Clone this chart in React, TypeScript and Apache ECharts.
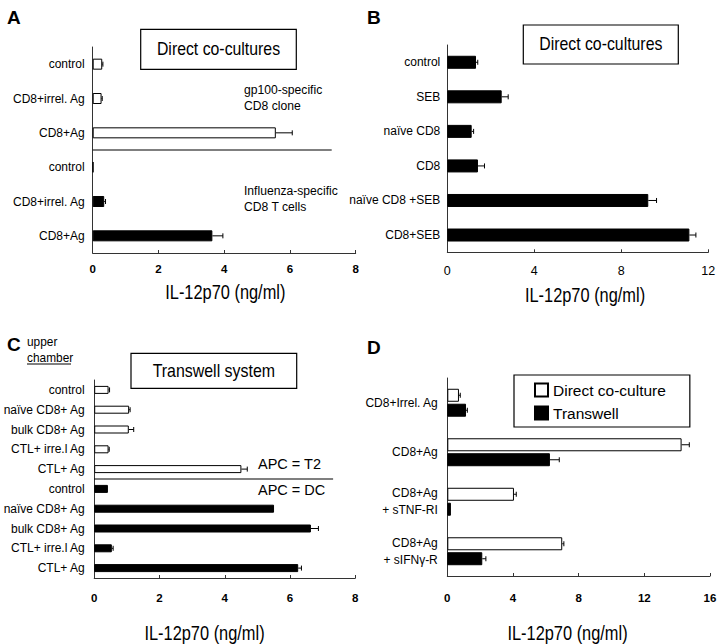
import React, { useEffect, useRef } from 'react';
import * as echarts from 'echarts';

// ---------- Panel A ----------
const aCategories = ['control', 'CD8+irrel. Ag', 'CD8+Ag', 'control', 'CD8+irrel. Ag', 'CD8+Ag'];
const aCells = ['gp100', 'gp100', 'gp100', 'influenza', 'influenza', 'influenza'];
const aValues = [0.29, 0.27, 5.57, 0.02, 0.35, 3.64];
const aErrors = [0.02, 0.02, 0.5, 0, 0.04, 0.32];
const aTicks = [0, 2, 4, 6, 8];

// ---------- Panel B ----------
const bCategories = ['control', 'SEB', 'naïve CD8', 'CD8', 'naïve CD8 +SEB', 'CD8+SEB'];
const bValues = [1.32, 2.5, 1.12, 1.41, 9.24, 11.13];
const bErrors = [0.08, 0.3, 0.09, 0.3, 0.38, 0.3];
const bTicks = [0, 4, 8, 12];

// ---------- Panel C ----------
const cCategories = [
  'control', 'naïve CD8+ Ag', 'bulk CD8+ Ag', 'CTL+ irre.l Ag', 'CTL+ Ag',
  'control', 'naïve CD8+ Ag', 'bulk CD8+ Ag', 'CTL+ irre.l Ag', 'CTL+ Ag',
];
const cAPC = ['T2', 'T2', 'T2', 'T2', 'T2', 'DC', 'DC', 'DC', 'DC', 'DC'];
const cValues = [0.44, 1.07, 1.06, 0.44, 4.51, 0.42, 5.51, 6.64, 0.54, 6.25];
const cErrors = [0.03, 0.03, 0.15, 0.02, 0.18, 0, 0, 0.23, 0.04, 0.1];
const cTicks = [0, 2, 4, 6, 8];

// ---------- Panel D ----------
const dCategories = ['CD8+Irrel. Ag', 'CD8+Ag', 'CD8+Ag\n+ sTNF-RI', 'CD8+Ag\n+ sIFNγ-R'];
const dDirect = [0.71, 14.27, 4.06, 7.0];
const dDirectErr = [0.08, 0.47, 0.14, 0.1];
const dTranswell = [1.14, 6.25, 0.22, 2.13];
const dTranswellErr = [0.08, 0.57, 0, 0.22];
const dTicks = [0, 4, 8, 12, 16];

const SANS = "'Liberation Sans', Arial, sans-serif";
const AXIS_COLOR = '#333';

const openStyle = { color: '#fff', borderColor: '#000', borderWidth: 1 };
const solidStyle = { color: '#000', borderColor: '#000', borderWidth: 1 };

function errorRender(offset: number) {
  return (params: any, api: any) => {
    const v = api.value(0);
    const cat = api.value(1);
    const e = api.value(2);
    if (!e) return null;
    const p0 = api.coord([v, cat]);
    const p1 = api.coord([v + e, cat]);
    const y = p0[1] + offset;
    const st = { stroke: '#000', lineWidth: 1 };
    return {
      type: 'group',
      children: [
        { type: 'line', shape: { x1: p0[0], y1: y, x2: p1[0], y2: y }, style: st },
        { type: 'line', shape: { x1: p1[0], y1: y - 2.5, x2: p1[0], y2: y + 2.5 }, style: st },
      ],
    };
  };
}

function dividerRender(reach: number) {
  return (params: any, api: any) => {
    const i = api.value(0);
    const a = api.coord([0, i]);
    const b = api.coord([reach, i + 1]);
    const y = (a[1] + b[1]) / 2;
    return {
      type: 'line',
      shape: { x1: a[0], y1: y, x2: b[0], y2: y },
      style: { stroke: '#000', lineWidth: 1.2 },
    };
  };
}

function xAxisFor(idx: number, ticks: number[], margin: number, bold: boolean) {
  return {
    type: 'value',
    gridIndex: idx,
    min: ticks[0],
    max: ticks[ticks.length - 1],
    interval: ticks[1] - ticks[0],
    axisLine: { show: true, lineStyle: { color: AXIS_COLOR, width: 1 } },
    axisTick: { show: true, inside: true, length: 3, lineStyle: { color: AXIS_COLOR } },
    splitLine: { show: false },
    axisLabel: {
      margin,
      fontSize: bold ? 11.5 : 12.5,
      fontWeight: bold ? 'bold' : 'normal',
      fontFamily: SANS,
      color: '#000',
    },
  };
}

function yAxisFor(idx: number, cats: string[], margin: number) {
  return {
    type: 'category',
    gridIndex: idx,
    data: cats,
    inverse: true,
    axisLine: { show: true, lineStyle: { color: AXIS_COLOR, width: 1 } },
    axisTick: { show: false },
    axisLabel: { margin, fontSize: 12, fontFamily: SANS, color: '#000', lineHeight: 17 },
  };
}

function errData(values: number[], errs: number[]) {
  return values.map((v, i) => [v, i, errs[i]]);
}

function txt(x: number, y: number, text: string, size: number, opts: any = {}) {
  return {
    type: 'text',
    x,
    y,
    scaleX: opts.sx || 1,
    z: opts.z || 1,
    style: {
      text,
      fontSize: size,
      fontFamily: SANS,
      fontWeight: opts.weight || 'normal',
      fill: '#000',
      textAlign: opts.align || 'left',
      textVerticalAlign: 'middle',
    },
  };
}

function box(x1: number, y1: number, x2: number, y2: number, label: string, size: number, sx: number) {
  return [
    {
      type: 'rect',
      shape: { x: x1, y: y1, width: x2 - x1, height: y2 - y1 },
      style: { fill: '#fff', stroke: '#000', lineWidth: 1.2 },
      z: 10,
    },
    txt((x1 + x2) / 2, (y1 + y2) / 2, label, size, { align: 'center', sx, z: 11 }),
  ];
}

export default function App() {
  const ref = useRef<HTMLDivElement>(null);
  useEffect(() => {
    if (!ref.current) return;
    const chart = echarts.init(ref.current, null, { renderer: 'svg' });
    const option: any = {
      animation: false,
      backgroundColor: '#fff',
      grid: [
        { left: 92.7, top: 47, width: 263, height: 206 },
        { left: 447.3, top: 45, width: 261, height: 207.3 },
        { left: 92.3, top: 380, width: 263, height: 198 },
        { left: 447.3, top: 378, width: 262.7, height: 198 },
      ],
      xAxis: [
        xAxisFor(0, aTicks, 10, true),
        xAxisFor(1, bTicks, 12, false),
        xAxisFor(2, cTicks, 14, true),
        xAxisFor(3, dTicks, 16, true),
      ],
      yAxis: [
        yAxisFor(0, aCategories, 8),
        yAxisFor(1, bCategories, 7),
        yAxisFor(2, cCategories, 9.5),
        yAxisFor(3, dCategories, 9.5),
      ],
      legend: {
        data: ['Direct co-culture', 'Transwell'],
        orient: 'vertical',
        left: 514,
        top: 375,
        padding: [6, 24, 5, 20],
        itemGap: 5,
        itemWidth: 13,
        itemHeight: 13,
        icon: 'rect',
        borderColor: '#000',
        borderWidth: 1.2,
        backgroundColor: '#fff',
        selectedMode: false,
        textStyle: { fontSize: 15.5, fontFamily: SANS, color: '#000', lineHeight: 18 },
        z: 10,
      },
      series: [
        // Panel A
        {
          name: 'A IL-12p70',
          type: 'bar',
          xAxisIndex: 0,
          yAxisIndex: 0,
          barWidth: 11,
          data: aValues.map((v, i) => ({ value: v, itemStyle: aCells[i] === 'gp100' ? openStyle : solidStyle })),
        },
        {
          name: 'A err',
          type: 'custom',
          xAxisIndex: 0,
          yAxisIndex: 0,
          encode: { x: 0, y: 1 },
          renderItem: errorRender(0),
          data: errData(aValues, aErrors),
          z: 5,
        },
        {
          name: 'A divider',
          type: 'custom',
          xAxisIndex: 0,
          yAxisIndex: 0,
          encode: { y: 0 },
          renderItem: dividerRender(7.27),
          data: [[aCells.lastIndexOf('gp100')]],
          z: 5,
        },
        // Panel B
        {
          name: 'B IL-12p70',
          type: 'bar',
          xAxisIndex: 1,
          yAxisIndex: 1,
          barWidth: 13,
          itemStyle: solidStyle,
          data: bValues,
        },
        {
          name: 'B err',
          type: 'custom',
          xAxisIndex: 1,
          yAxisIndex: 1,
          encode: { x: 0, y: 1 },
          renderItem: errorRender(0),
          data: errData(bValues, bErrors),
          z: 5,
        },
        // Panel C
        {
          name: 'C IL-12p70',
          type: 'bar',
          xAxisIndex: 2,
          yAxisIndex: 2,
          barWidth: 8,
          data: cValues.map((v, i) => ({ value: v, itemStyle: cAPC[i] === 'T2' ? openStyle : solidStyle })),
        },
        {
          name: 'C err',
          type: 'custom',
          xAxisIndex: 2,
          yAxisIndex: 2,
          encode: { x: 0, y: 1 },
          renderItem: errorRender(0),
          data: errData(cValues, cErrors),
          z: 5,
        },
        {
          name: 'C divider',
          type: 'custom',
          xAxisIndex: 2,
          yAxisIndex: 2,
          encode: { y: 0 },
          renderItem: dividerRender(7.32),
          data: [[cAPC.lastIndexOf('T2')]],
          z: 5,
        },
        // Panel D
        {
          name: 'Direct co-culture',
          type: 'bar',
          xAxisIndex: 3,
          yAxisIndex: 3,
          barWidth: 13,
          barGap: '15%',
          itemStyle: openStyle,
          data: dDirect,
        },
        {
          name: 'Transwell',
          type: 'bar',
          xAxisIndex: 3,
          yAxisIndex: 3,
          barWidth: 13,
          barGap: '15%',
          itemStyle: solidStyle,
          data: dTranswell,
        },
        {
          name: 'D err direct',
          type: 'custom',
          xAxisIndex: 3,
          yAxisIndex: 3,
          encode: { x: 0, y: 1 },
          renderItem: errorRender(-7.5),
          data: errData(dDirect, dDirectErr),
          z: 5,
        },
        {
          name: 'D err transwell',
          type: 'custom',
          xAxisIndex: 3,
          yAxisIndex: 3,
          encode: { x: 0, y: 1 },
          renderItem: errorRender(7.5),
          data: errData(dTranswell, dTranswellErr),
          z: 5,
        },
      ],
      graphic: [
        txt(7, 17, 'A', 19, { weight: 'bold' }),
        txt(367, 17, 'B', 19, { weight: 'bold' }),
        txt(7, 344, 'C', 19, { weight: 'bold' }),
        txt(367, 347, 'D', 19, { weight: 'bold' }),
        ...box(140.7, 29.3, 296.3, 69.3, 'Direct co-cultures', 18, 0.88),
        ...box(523.3, 25, 678.3, 64, 'Direct co-cultures', 18, 0.88),
        ...box(131, 353.3, 296.7, 388.3, 'Transwell system', 18, 0.885),
        txt(244, 89, 'gp100-specific', 13.5, { sx: 0.9 }),
        txt(244, 105.5, 'CD8 clone', 13.5, { sx: 0.9 }),
        txt(244, 190, 'Influenza-specific', 13.5, { sx: 0.9 }),
        txt(244, 206, 'CD8 T cells', 13.5, { sx: 0.9 }),
        txt(27, 341.5, 'upper', 12.5, { sx: 0.95 }),
        txt(27, 357.5, 'chamber', 12.5, { sx: 0.95 }),
        { type: 'line', shape: { x1: 27, y1: 364, x2: 71, y2: 364 }, style: { stroke: '#000', lineWidth: 1 } },
        txt(258, 463.5, 'APC = T2', 14.5),
        txt(258, 490, 'APC = DC', 14.5),
        txt(225.3, 292, 'IL-12p70 (ng/ml)', 20, { align: 'center', sx: 0.82 }),
        txt(585, 295, 'IL-12p70 (ng/ml)', 20, { align: 'center', sx: 0.82 }),
        txt(204.5, 633, 'IL-12p70 (ng/ml)', 20, { align: 'center', sx: 0.82 }),
        txt(567.5, 633, 'IL-12p70 (ng/ml)', 20, { align: 'center', sx: 0.82 }),
      ],
    };
    chart.setOption(option);
    return () => chart.dispose();
  }, []);
  return (
    <div
      ref={ref}
      style={{ position: 'absolute', left: 0, top: 0, width: 720, height: 644, background: '#fff' }}
    />
  );
}
